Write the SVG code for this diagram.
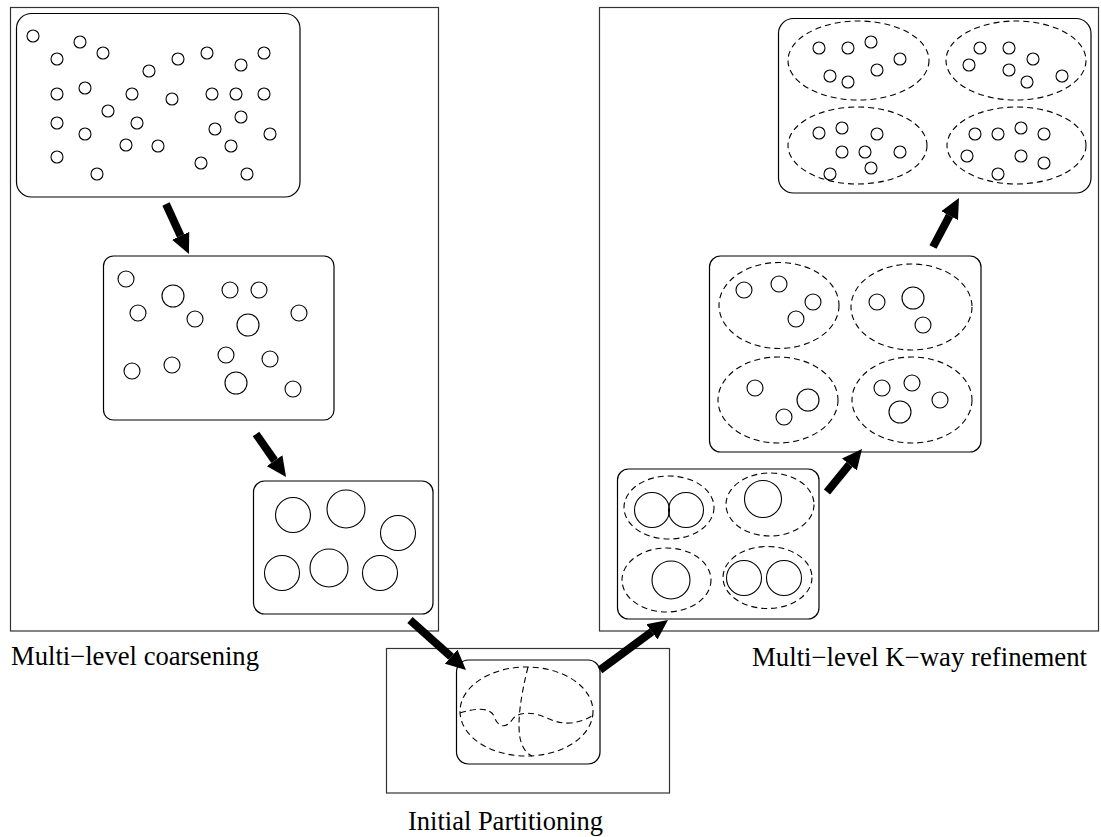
<svg xmlns="http://www.w3.org/2000/svg" width="1101" height="837" viewBox="0 0 1101 837">
<style>
.frame{fill:none;stroke:#333;stroke-width:1.2}
.box{fill:#fff;stroke:#000;stroke-width:1.2}
.c{fill:none;stroke:#000;stroke-width:1.1}
.d{fill:none;stroke:#000;stroke-width:1.1;stroke-dasharray:6 4}
.lbl{font-family:"Liberation Serif","Times New Roman",serif;font-size:26.5px;fill:#000}
.arr{stroke:#000;stroke-width:8;fill:none;marker-end:url(#head)}
</style>
<defs>
<marker id="head" viewBox="0 -10 20 20" refX="0" refY="0" markerWidth="20" markerHeight="20" markerUnits="userSpaceOnUse" orient="auto">
<path d="M0,-9.5 L20,0 L0,9.5 z" fill="#000"/>
</marker>
</defs>
<rect x="0" y="0" width="1101" height="837" fill="#fff"/>
<g id="frame-coarsening"><rect class="frame" x="10.5" y="7.5" width="428" height="623.5"/></g>
<g id="frame-refinement"><rect class="frame" x="599.5" y="7.5" width="499" height="623.5"/></g>
<g id="frame-initial"><rect class="frame" x="386.5" y="648.5" width="283" height="144.5"/></g>

<g id="coarse-1">
<rect class="box" x="16.5" y="13.5" width="283.5" height="183.5" rx="15"/>
<g class="c">
<circle cx="33" cy="36" r="6"/><circle cx="80" cy="42" r="6"/><circle cx="57" cy="59" r="6"/><circle cx="103" cy="53" r="6"/>
<circle cx="149" cy="71" r="6"/><circle cx="178" cy="59" r="6"/><circle cx="207" cy="53" r="6"/><circle cx="241" cy="65" r="6"/>
<circle cx="264" cy="53" r="6"/><circle cx="57" cy="94" r="6"/><circle cx="85" cy="88" r="6"/><circle cx="132" cy="94" r="6"/>
<circle cx="172" cy="99" r="6"/><circle cx="212" cy="94" r="6"/><circle cx="236" cy="94" r="6"/><circle cx="264" cy="94" r="6"/>
<circle cx="108" cy="111" r="6"/><circle cx="57" cy="123" r="6"/><circle cx="137" cy="123" r="6"/><circle cx="241" cy="117" r="6"/>
<circle cx="215" cy="129" r="6"/><circle cx="85" cy="134" r="6"/><circle cx="270" cy="134" r="6"/><circle cx="126" cy="145" r="6"/>
<circle cx="158" cy="146" r="6"/><circle cx="231" cy="146" r="6"/><circle cx="57" cy="157" r="6"/><circle cx="201" cy="163" r="6"/>
<circle cx="97" cy="174" r="6"/><circle cx="247" cy="174" r="6"/>
</g>
</g>

<g id="coarse-2">
<rect class="box" x="103.5" y="256" width="230.5" height="164" rx="10"/>
<g class="c">
<circle cx="126" cy="279" r="8"/><circle cx="173" cy="296" r="11"/><circle cx="230" cy="290" r="8"/><circle cx="259" cy="290" r="8"/>
<circle cx="138" cy="313" r="8"/><circle cx="195" cy="319" r="8"/><circle cx="248" cy="325" r="11"/><circle cx="299" cy="313" r="8"/>
<circle cx="226" cy="355" r="8"/><circle cx="270" cy="359" r="8"/><circle cx="132" cy="371" r="8"/><circle cx="172" cy="365" r="8"/>
<circle cx="236" cy="383" r="11"/><circle cx="293" cy="389" r="8"/>
</g>
</g>

<g id="coarse-3">
<rect class="box" x="253.5" y="481" width="179.5" height="133" rx="11"/>
<g class="c">
<circle cx="293" cy="515" r="17.5"/><circle cx="346" cy="509" r="19"/><circle cx="398" cy="533" r="17.5"/>
<circle cx="282" cy="573" r="17.5"/><circle cx="329" cy="568" r="19"/><circle cx="380" cy="573" r="17.5"/>
</g>
</g>

<g id="initial">
<rect class="box" x="456.5" y="660" width="143.5" height="104" rx="12"/>
<ellipse class="d" cx="526.5" cy="711.5" rx="66.5" ry="44.5"/>
<path class="d" d="M528,667 Q516,715 520,738 Q523,752 532,756"/>
<path class="d" d="M460,713 C475,708 490,707 494,716 C497,726 505,730 512,720 C516,714 525,712 535,714 C548,717 555,724 570,723 C580,722 587,719 592,716"/>
</g>

<g id="refine-1">
<rect class="box" x="617.5" y="469" width="201.5" height="150" rx="11"/>
<ellipse class="d" cx="669" cy="507.5" rx="45" ry="31.5"/>
<ellipse class="d" cx="770" cy="504.5" rx="44" ry="31.5"/>
<ellipse class="d" cx="666.5" cy="580" rx="44.5" ry="32"/>
<ellipse class="d" cx="767.5" cy="577.5" rx="44.5" ry="31"/>
<g class="c">
<circle cx="652" cy="510" r="17.5"/><circle cx="686" cy="510" r="17.5"/><circle cx="763" cy="499" r="18.5"/>
<circle cx="671" cy="580" r="19"/><circle cx="744" cy="578" r="17.5"/><circle cx="784" cy="578" r="17.5"/>
</g>
</g>

<g id="refine-2">
<rect class="box" x="709.5" y="256" width="271.5" height="196" rx="11"/>
<ellipse class="d" cx="779" cy="305.5" rx="60" ry="43"/>
<ellipse class="d" cx="911.5" cy="307" rx="60.5" ry="43"/>
<ellipse class="d" cx="778" cy="400" rx="60" ry="43"/>
<ellipse class="d" cx="912" cy="400" rx="60" ry="43"/>
<g class="c">
<circle cx="744" cy="290" r="8"/><circle cx="779" cy="284" r="8"/><circle cx="813" cy="302" r="8"/><circle cx="796" cy="319" r="8"/>
<circle cx="877" cy="302" r="8"/><circle cx="913" cy="298" r="11"/><circle cx="923" cy="325" r="8"/>
<circle cx="755" cy="388" r="8"/><circle cx="808" cy="400" r="11"/><circle cx="784" cy="417" r="8"/>
<circle cx="882" cy="388" r="8"/><circle cx="912" cy="383" r="8"/><circle cx="900" cy="412" r="11"/><circle cx="940" cy="400" r="8"/>
</g>
</g>

<g id="refine-3">
<rect class="box" x="778.5" y="18.5" width="312.5" height="174.5" rx="15"/>
<ellipse class="d" cx="858.5" cy="60.5" rx="70.5" ry="39.5"/>
<ellipse class="d" cx="1016" cy="60.5" rx="70" ry="39.5"/>
<ellipse class="d" cx="857.5" cy="145.5" rx="69.5" ry="38.5"/>
<ellipse class="d" cx="1016.5" cy="145.5" rx="69.5" ry="38.5"/>
<g class="c">
<circle cx="819" cy="48" r="6"/><circle cx="848" cy="48" r="6"/><circle cx="871" cy="42" r="6"/><circle cx="900" cy="59" r="6"/>
<circle cx="830" cy="76" r="6"/><circle cx="848" cy="82" r="6"/><circle cx="877" cy="70" r="6"/>
<circle cx="980" cy="48" r="6"/><circle cx="1009" cy="48" r="6"/><circle cx="1033" cy="59" r="6"/><circle cx="969" cy="65" r="6"/>
<circle cx="1009" cy="70" r="6"/><circle cx="1027" cy="82" r="6"/><circle cx="1062" cy="76" r="6"/>
<circle cx="819" cy="133" r="6"/><circle cx="842" cy="128" r="6"/><circle cx="877" cy="134" r="6"/><circle cx="842" cy="152" r="6"/>
<circle cx="865" cy="152" r="6"/><circle cx="900" cy="152" r="6"/><circle cx="830" cy="174" r="6"/><circle cx="871" cy="168" r="6"/>
<circle cx="975" cy="134" r="6"/><circle cx="998" cy="134" r="6"/><circle cx="1021" cy="128" r="6"/><circle cx="1044" cy="134" r="6"/>
<circle cx="967" cy="156" r="6"/><circle cx="1021" cy="156" r="6"/><circle cx="1044" cy="163" r="6"/><circle cx="998" cy="174" r="6"/>
</g>
</g>

<g id="connectors">
<line class="arr" x1="166" y1="204" x2="180.6" y2="235.8"/>
<line class="arr" x1="256" y1="434" x2="274.6" y2="460.6"/>
<line class="arr" x1="410" y1="620" x2="451.1" y2="656.7"/>
<line class="arr" x1="600" y1="670" x2="651.9" y2="631.8"/>
<line class="arr" x1="827" y1="492" x2="849.4" y2="464.5"/>
<line class="arr" x1="933" y1="247" x2="949.6" y2="215.7"/>
</g>

<g id="labels">
<text class="lbl" x="11" y="665" textLength="248" lengthAdjust="spacingAndGlyphs">Multi−level coarsening</text>
<text class="lbl" x="752" y="666" textLength="335" lengthAdjust="spacingAndGlyphs">Multi−level K−way refinement</text>
<text class="lbl" x="408" y="830" textLength="195" lengthAdjust="spacingAndGlyphs">Initial Partitioning</text>
</g>
</svg>
